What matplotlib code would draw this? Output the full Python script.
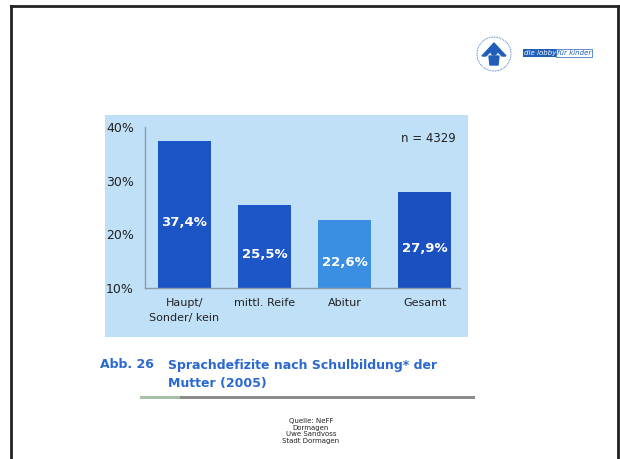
import matplotlib
matplotlib.use("Agg")
import matplotlib.pyplot as plt
from matplotlib.patches import Rectangle, Circle, Polygon
from matplotlib.lines import Line2D

# data
categories = ["Haupt/\nSonder/ kein", "mittl. Reife", "Abitur", "Gesamt"]
values = [37.4, 25.5, 22.6, 27.9]
value_labels = ["37,4%", "25,5%", "22,6%", "27,9%"]
bar_colors = ["#1b54c4", "#1d56c6", "#3a8fe2", "#1b50c0"]
yticks = [10, 20, 30, 40]
ytick_labels = ["10%", "20%", "30%", "40%"]

W, H = 620, 459
fig = plt.figure(figsize=(W / 100, H / 100), dpi=100)
fig.patch.set_facecolor("white")


def px(x0, y0, x1, y1):
    # pixel box -> figure fraction [left, bottom, width, height]
    return [x0 / W, 1 - y1 / H, (x1 - x0) / W, (y1 - y0) / H]


# slide border
fig.add_artist(Line2D([11 / W, 11 / W], [0, 1 - 6 / H], color="#222222", lw=2, transform=fig.transFigure))
fig.add_artist(Line2D([11 / W, 618 / W], [1 - 6 / H, 1 - 6 / H], color="#222222", lw=2, transform=fig.transFigure))
fig.add_artist(Line2D([618 / W, 618 / W], [0, 1 - 6 / H], color="#222222", lw=2, transform=fig.transFigure))

# light blue panel
fig.add_artist(Rectangle((105 / W, 1 - 337 / H), 363 / W, 222 / H, transform=fig.transFigure,
                         facecolor="#c0e0f8", edgecolor="none", zorder=0))

ax = fig.add_axes(px(145, 127, 460, 288))
ax.set_facecolor("none")
x = range(len(categories))
bars = ax.bar(x, [v - 10 for v in values], bottom=10, width=0.66, color=bar_colors, zorder=2)
ax.bar_label(bars, labels=value_labels, label_type="center", color="white",
             fontsize=9.5, fontweight="bold", padding=-6)
ax.set_xlim(-0.49, 3.44)
ax.set_ylim(10, 40)
ax.set_yticks(yticks)
ax.set_yticklabels(ytick_labels, fontsize=9, color="#222222")
ax.set_xticks(list(x))
ax.set_xticklabels(categories, fontsize=8, color="#222222", linespacing=1.7)
ax.tick_params(length=0, pad=8)
ax.tick_params(axis="x", pad=7)
for s in ["top", "right"]:
    ax.spines[s].set_visible(False)
for s in ["left", "bottom"]:
    ax.spines[s].set_color("#8a9aa8")
    ax.spines[s].set_linewidth(1)
ax.text(0.985, 0.93, "n = 4329", transform=ax.transAxes, ha="right", va="center",
        fontsize=8.5, color="#222222")

# caption
cap_color = "#2a68d0"
fig.text(100 / W, 1 - 365 / H, "Abb. 26", fontsize=9, fontweight="bold", color=cap_color, va="center")
fig.text(168 / W, 1 - 365 / H, "Sprachdefizite nach Schulbildung* der", fontsize=9,
         fontweight="bold", color=cap_color, va="center")
fig.text(168 / W, 1 - 383 / H, "Mutter (2005)", fontsize=9, fontweight="bold", color=cap_color, va="center")
fig.add_artist(Rectangle((140 / W, 1 - 399 / H), 40 / W, 3 / H, transform=fig.transFigure,
                         facecolor="#a8c0a8", edgecolor="none"))
fig.add_artist(Rectangle((180 / W, 1 - 399 / H), 295 / W, 3 / H, transform=fig.transFigure,
                         facecolor="#8c8c8c", edgecolor="none"))

# source
fig.text(311 / W, 1 - 431 / H, "Quelle: NeFF\nDormagen\nUwe Sandvoss\nStadt Dormagen",
         fontsize=5, ha="center", va="center", color="#222222", linespacing=1.1)

# logo
lax = fig.add_axes(px(468, 28, 520, 80))
lax.set_xlim(0, 52)
lax.set_ylim(52, 0)
lax.axis("off")
lax.add_patch(Circle((26, 26), 17, fill=False, edgecolor="#1f5fb8", lw=0.6, ls=(0, (1, 1))))
lax.add_patch(Polygon([(14, 28), (26, 15), (38, 28), (34, 28), (26, 20), (18, 28)], color="#1f5fb8"))
lax.add_patch(Circle((26, 24), 3, color="#1f5fb8"))
lax.add_patch(Polygon([(21, 28), (31, 28), (30, 37), (22, 37)], color="#1f5fb8"))
fig.text(524 / W, 1 - 53 / H, "die lobby", fontsize=5, style="italic", color="white", va="center",
         bbox=dict(boxstyle="square,pad=0.15", facecolor="#1f5fb8", edgecolor="none"))
fig.text(557 / W, 1 - 53 / H, "für kinder", fontsize=5, style="italic", color="#1f5fb8", va="center",
         bbox=dict(boxstyle="square,pad=0.15", facecolor="white", edgecolor="#1f5fb8", lw=0.5))

fig.savefig("out.png", dpi=100)
